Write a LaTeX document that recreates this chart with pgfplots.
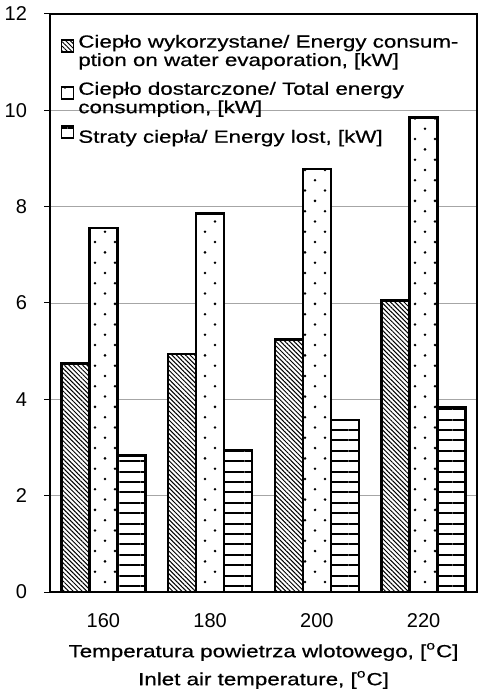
\documentclass[border=0pt]{standalone}
\usepackage{pgfplots}
\pgfplotsset{compat=1.18}
\usepackage{fontspec}
\setmainfont{Liberation Sans}[FakeStretch=1.27,FakeBold=0.6]
\newfontfamily\tickfont{Liberation Sans}
\usetikzlibrary{patterns,patterns.meta}
\pgfdeclarepattern{
  name=sparsedots,
  type=uncolored,
  bottom left={\pgfpoint{-.1pt}{-.1pt}},
  top right={\pgfpoint{10pt}{10.3pt}},
  tile size={\pgfpoint{10pt}{10.3pt}},
  code={
    \pgfpathcircle{\pgfpoint{2.5pt}{2.5pt}}{0.7pt}
    \pgfpathcircle{\pgfpoint{7.5pt}{7.65pt}}{0.7pt}
    \pgfusepath{fill}
  }
}
\begin{document}
\begin{tikzpicture}
\begin{axis}[
  scale only axis, width=213.5pt, height=289pt,
  at={(0,0)}, anchor=south west,
  xmin=-0.5, xmax=3.5, ymin=0, ymax=12,
  ybar=0pt, bar width=14pt,
  xtick={0,1,2,3}, xticklabels={160,180,200,220},
  ytick={0,2,...,12},
  ymajorgrids, grid style={gray!70, line width=0.4pt},
  axis line style={line width=1.1pt},
  xtick style={draw=none},
  ytick style={black, line width=0.5pt},
  tick align=outside, major tick length=3pt,
  ytick pos=left,
  tick label style={font=\tickfont\fontsize{10}{12}\selectfont},
  xticklabel style={yshift=-4pt},
  yticklabel style={xshift=-5pt},
  /pgf/number format/assume math mode=true,
  xlabel={Temperatura powietrza wlotowego, [\textsuperscript{o}C]\\Inlet air temperature, [\textsuperscript{o}C]},
  xlabel style={align=center, font=\fontsize{8.8}{14}\selectfont, yshift=-1pt},
  legend cell align=left,
  legend style={at={(0.02,0.975)}, anchor=north west, draw=none, fill=none,
    cells={align=left}, font=\fontsize{8.8}{7.6}\selectfont, row sep=2.5pt, inner sep=1pt,
    /tikz/every even column/.append style={column sep=2pt}},
  legend image code/.code={\draw[#1, line width=0.7pt] (0pt,0pt) rectangle (6pt,6pt);},
  every axis plot/.append style={draw=black, line width=1.2pt, fill=white},
]
\addplot[postaction={pattern={Lines[angle=-45,distance=1.6pt,line width=0.5pt]}}]
  coordinates {(0,4.74) (1,4.94) (2,5.24) (3,6.05)};
\addplot[postaction={pattern=sparsedots}]
  coordinates {(0,7.56) (1,7.86) (2,8.78) (3,9.85)};
\addplot[postaction={pattern={Lines[angle=0,distance=5.2pt,line width=1pt]}}]
  coordinates {(0,2.83) (1,2.95) (2,3.57) (3,3.83)};
\legend{{Ciepło wykorzystane/ Energy consum-\\ption on water evaporation, [kW]},
        {Ciepło dostarczone/ Total energy\\consumption, [kW]},
        {Straty ciepła/ Energy lost, [kW]}}
\end{axis}
\pgfresetboundingbox
\path (-25pt,-49pt) rectangle (214.5pt,296pt);
\end{tikzpicture}
\end{document}
